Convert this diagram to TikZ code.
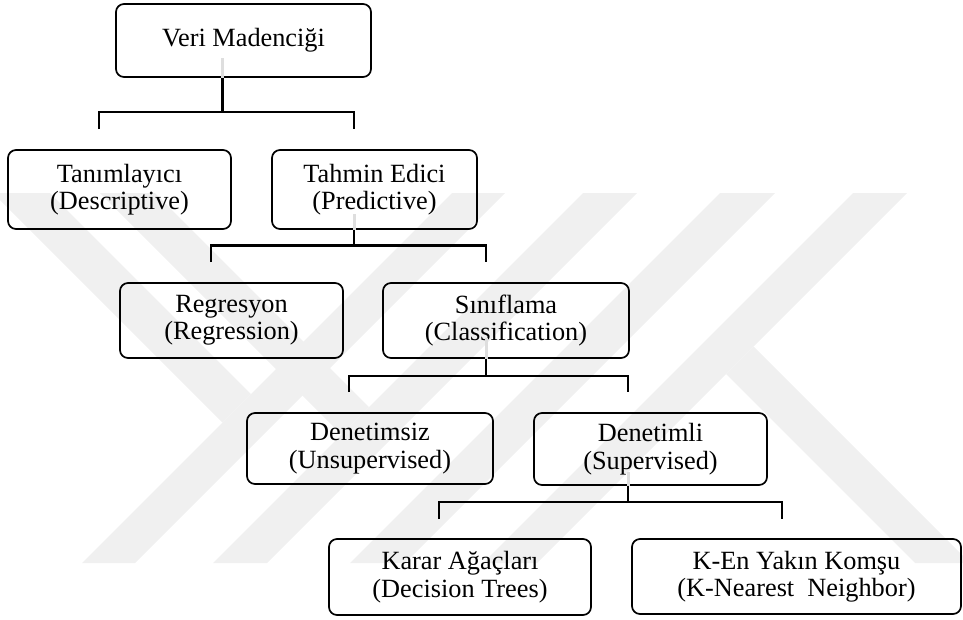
\documentclass[tikz,border=0pt]{standalone}
\usepackage{fontspec}
\setmainfont{Liberation Serif}
\usetikzlibrary{calc}
\definecolor{wmgray}{gray}{0.94}
\definecolor{stubgray}{gray}{0.87}
\begin{document}
\begin{tikzpicture}[x=1pt,y=-1pt,
  box/.style={draw, line width=1.7pt, rounded corners=8pt, align=center,
    inner sep=0pt, font=\fontsize{26.3}{27.4}\selectfont},
  conn/.style={line width=2.7pt},
  stub/.style={draw=stubgray, line width=3pt},
  wm/.style={fill=wmgray}]
\useasboundingbox (0,0) rectangle (963,619);

% faint background emblem made of slanted bands
\begin{scope}
  \clip (0,0) rectangle (963,619);
  \fill[wm] (452,193) -- (505,193) -- (135,563) -- (82,563) -- cycle;
  \fill[wm] (583,193) -- (637,193) -- (267,563) -- (213,563) -- cycle;
  \fill[wm] (720,193) -- (775,193) -- (405,563) -- (350,563) -- cycle;
  \fill[wm] (853,193) -- (907,193) -- (537,563) -- (483,563) -- cycle;
  \fill[wm] (-7,193) -- (50,193) -- (251,394) -- (222.5,422.5) -- cycle;
  \fill[wm] (100,193) -- (155,193) -- (369,407) -- (341.5,434.5) -- cycle;
  \fill[wm] (753.5,346.5) -- (970,563) -- (915,563) -- (726,374) -- cycle;
\end{scope}

% junction points of the brackets
\coordinate (j1) at (222.5,112);
\coordinate (j2) at (354,245.5);
\coordinate (j3) at (486,376);
\coordinate (j4) at (628,502);

% open ends of the brackets
\coordinate (e1l) at (99,129);   \coordinate (e1r) at (354,129);
\coordinate (e2l) at (211,262);  \coordinate (e2r) at (486,262);
\coordinate (e3l) at (349,392);  \coordinate (e3r) at (628,392);
\coordinate (e4l) at (439,519);  \coordinate (e4r) at (782,519);

% boxes
\node[box, minimum width=255pt, minimum height=73pt] (root)  at (243.5,40.5) {Veri Madenciği};
\node[box, minimum width=223pt, minimum height=79pt] (desc)  at (119.5,189.5) {Tanımlayıcı\\(Descriptive)};
\node[box, minimum width=205pt, minimum height=79pt] (pred)  at (374.5,189.5) {Tahmin Edici\\(Predictive)};
\node[box, minimum width=223pt, minimum height=75pt] (regr)  at (231.5,320.5) {Regresyon\\(Regression)};
\node[box, minimum width=246pt, minimum height=75pt] (clas)  at (506,320.5) {Sınıflama\\(Classification)};
\node[box, minimum width=246pt, minimum height=71pt] (unsup) at (370,448.5) {Denetimsiz\\(Unsupervised)};
\node[box, minimum width=233pt, minimum height=72pt] (sup)   at (650.5,449) {Denetimli\\(Supervised)};
\node[box, minimum width=262pt, minimum height=76pt] (dtree) at (460,577) {Karar Ağaçları\\(Decision Trees)};
\node[box, minimum width=329pt, minimum height=75pt] (knn)   at (796.5,576.5) {K-En Yakın Komşu\\(K-Nearest\ \ Neighbor)};

% pale traces of the stems inside the parent boxes
\draw[stub] (j1 |- root.south) -- ++(0,-20);
\draw[stub] (j2 |- pred.south) -- ++(0,-16);
\draw[stub] (j3 |- clas.south) -- ++(0,-21);
\draw[stub] (j4 |- sup.south)  -- ++(0,-14);

% brackets
\draw[conn] (root.south -| j1) -- (j1);
\draw[conn] (e1l) |- (j1) -| (e1r);
\draw[conn] (pred.south -| j2) -- (j2);
\draw[conn] (e2l) |- (j2) -| (e2r);
\draw[conn] (clas.south -| j3) -- (j3);
\draw[conn] (e3l) |- (j3) -| (e3r);
\draw[conn] (sup.south -| j4) -- (j4);
\draw[conn] (e4l) |- (j4) -| (e4r);
\end{tikzpicture}
\end{document}
